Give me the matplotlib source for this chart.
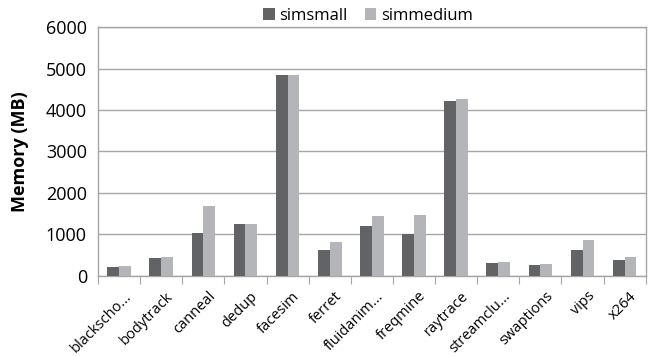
import matplotlib.pyplot as plt
import matplotlib.transforms as mtransforms
import numpy as np

plt.rcParams['font.family'] = ['Open Sans', 'DejaVu Sans']

benchmarks = ['blackscho...', 'bodytrack', 'canneal', 'dedup', 'facesim', 'ferret',
              'fluidanim...', 'freqmine', 'raytrace', 'streamclu...', 'swaptions',
              'vips', 'x264']
simsmall = [216, 432, 1030, 1247, 4850, 616, 1209, 1017, 4229, 305, 264, 633, 393]
simmedium = [233, 456, 1688, 1247, 4850, 825, 1456, 1463, 4254, 345, 297, 856, 448]

fig = plt.figure(figsize=(6.49, 3.56), dpi=100)
ax = fig.add_axes([0.151, 0.225, 0.844, 0.699])

x = np.arange(len(benchmarks))
w = 0.28
ax.bar(x - w / 2, simsmall, w, color='#626365', label='simsmall', zorder=3)
ax.bar(x + w / 2, simmedium, w, color='#b3b5b8', label='simmedium', zorder=3)

ax.set_xlim(-0.5, len(benchmarks) - 0.5)
ax.set_ylim(0, 6000)
ax.set_yticks(range(0, 6001, 1000))
ax.yaxis.grid(True, color='#a6a6a6', linewidth=1, zorder=0)
ax.tick_params(axis='y', length=0, labelsize=13, pad=8)

# ticks between categories, labels at centres
ax.set_xticks(np.arange(-0.5, len(benchmarks), 1.0))
ax.set_xticklabels([])
ax.tick_params(axis='x', which='major', length=6, color='#a6a6a6', direction='out')
ax.set_xticks(x, minor=True)
ax.set_xticklabels(benchmarks, minor=True, rotation=45, ha='right', va='center',
                   rotation_mode='anchor', fontsize=10.5)
ax.tick_params(axis='x', which='minor', length=0, pad=13)
off = mtransforms.ScaledTranslation(0.1, 0.0, fig.dpi_scale_trans)
for lbl in ax.get_xticklabels(minor=True):
    lbl.set_transform(lbl.get_transform() + off)

for s in ax.spines.values():
    s.set_color('#a6a6a6')
    s.set_linewidth(1)

fig.text(0.031, 0.575, 'Memory (MB)', rotation=90, ha='center', va='center',
         fontsize=13, fontweight='bold')
fig.legend(loc='center', bbox_to_anchor=(0.567, 0.955), ncol=2, frameon=False,
           fontsize=12, handlelength=0.7, handleheight=0.7, handletextpad=0.3,
           columnspacing=1.0)

fig.savefig('out.png', dpi=100)
